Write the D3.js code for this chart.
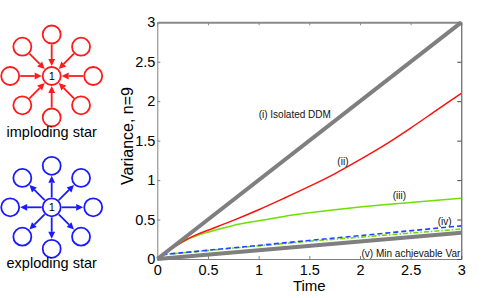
<!DOCTYPE html>
<html lang="en">
<head>
  <meta charset="UTF-8">
  <title>Variance, n=9</title>
  <script src="https://d3js.org/d3.v7.min.js"></script>
  <style>
    body {
      margin: 0;
      background: #fff;
      font-family: 'Liberation Sans', Arial, sans-serif;
    }
    .tick text {
      font-size: 14.5px;
      fill: #000;
    }
    .note {
      font-size: 10px;
      fill: #111;
    }
    .star-label {
      font-size: 14.5px;
      fill: #000;
    }
  </style>
</head>
<body>
  <svg id="chart" width="499" height="298"></svg>

  <script>
    // values
    const ticks = [0, 0.5, 1, 1.5, 2, 2.5, 3];

    const isolatedT = [0, 3];
    const isolatedV = [0, 3];

    const redT = [0, 0.1, 0.2, 0.3, 0.4, 0.5, 0.75, 1, 1.25, 1.5, 1.75, 2, 2.25, 2.5, 2.75, 3];
    const redV = [0, 0.095, 0.18, 0.255, 0.315, 0.365, 0.49, 0.625, 0.77, 0.92, 1.08, 1.26, 1.45, 1.66, 1.88, 2.1];

    const greenT = [0, 0.1, 0.2, 0.3, 0.4, 0.5, 0.75, 1, 1.25, 1.5, 1.75, 2, 2.5, 3];
    const greenV = [0, 0.095, 0.18, 0.25, 0.3, 0.34, 0.425, 0.485, 0.54, 0.585, 0.625, 0.66, 0.717, 0.77];

    const blueT = [0.05, 1.5, 3];
    const blueV = [0.055, 0.235, 0.42];

    const dashDotT = [0.05, 1.5, 3];
    const dashDotV = [0.055, 0.225, 0.38];

    const minT = [0, 3];
    const minV = [0, 0.333];

    const notes = [
      { text: "(i) Isolated DDM", t: 1.0, v: 1.785, anchor: "start" },
      { text: "(ii)", t: 1.777, v: 1.19, anchor: "start" },
      { text: "(iii)", t: 2.323, v: 0.756, anchor: "start" },
      { text: "(iv)", t: 2.767, v: 0.43, anchor: "start" },
      { text: "(v) Min achievable Var", t: 2.99, v: 0.025, anchor: "end" }
    ];

    const starAngles = [0, 45, 90, 135, 180, 225, 270, 315];

    const svg = d3.select("#chart");

    const x = d3.scaleLinear().domain([0, 3]).range([157.3, 461.3]);
    const y = d3.scaleLinear().domain([0, 3]).range([259, 22.3]);

    const zip = (ts, vs) => ts.map((t, i) => [t, vs[i]]);
    const line = d3.line().x(d => x(d[0])).y(d => y(d[1]));
    const smooth = d3.line().x(d => x(d[0])).y(d => y(d[1])).curve(d3.curveMonotoneX);

    const fmt = d => String(d);

    // axes, ticks inside like matlab
    const gx = svg.append("g")
      .attr("transform", `translate(0,${y(0)})`)
      .call(d3.axisBottom(x).tickValues(ticks).tickFormat(fmt).tickSizeInner(-3).tickSizeOuter(0).tickPadding(6));
    const gy = svg.append("g")
      .attr("transform", `translate(${x(0)},0)`)
      .call(d3.axisLeft(y).tickValues(ticks).tickFormat(fmt).tickSizeInner(-3).tickSizeOuter(0).tickPadding(2));
    const gt = svg.append("g")
      .attr("transform", `translate(0,${y(3)})`)
      .call(d3.axisTop(x).tickValues(ticks).tickFormat("").tickSizeInner(-3).tickSizeOuter(0));
    const gr = svg.append("g")
      .attr("transform", `translate(${x(3)},0)`)
      .call(d3.axisRight(y).tickValues(ticks).tickFormat("").tickSizeInner(-4).tickSizeOuter(0));

    [gx, gy].forEach(g => {
      g.select(".domain").attr("stroke", "#808080");
      g.selectAll(".tick line").attr("stroke", "#808080");
    });
    gt.select(".domain").attr("stroke", "#8a8a8a").attr("stroke-width", 2);
    gt.selectAll(".tick line").attr("stroke", "#8a8a8a");
    gr.select(".domain").attr("stroke", "#444");
    gr.selectAll(".tick line").attr("stroke", "#444");
    svg.selectAll(".tick text").attr("font-family", "'Liberation Sans', Arial, sans-serif");

    // series
    svg.append("path").datum(zip(greenT, greenV))
      .attr("d", smooth).attr("fill", "none")
      .attr("stroke", "#6ee000").attr("stroke-width", 1.5);

    svg.append("path").datum(zip(redT, redV))
      .attr("d", smooth).attr("fill", "none")
      .attr("stroke", "#ff1010").attr("stroke-width", 1.5);

    svg.append("path").datum(zip(dashDotT, dashDotV))
      .attr("d", line).attr("fill", "none")
      .attr("stroke", "#6ee000").attr("stroke-width", 1.6)
      .attr("stroke-dasharray", "5,2,1.5,2");

    svg.append("path").datum(zip(blueT, blueV))
      .attr("d", line).attr("fill", "none")
      .attr("stroke", "#2244ff").attr("stroke-width", 1.6)
      .attr("stroke-dasharray", "5,3");

    svg.append("path").datum(zip(minT, minV))
      .attr("d", line).attr("fill", "none")
      .attr("stroke", "#7f7f7f").attr("stroke-width", 4);

    svg.append("path").datum(zip(isolatedT, isolatedV))
      .attr("d", line).attr("fill", "none")
      .attr("stroke", "#7f7f7f").attr("stroke-width", 4);

    svg.selectAll(".note")
      .data(notes)
      .enter()
      .append("text")
      .attr("class", "note")
      .attr("x", d => x(d.t))
      .attr("y", d => y(d.v))
      .attr("text-anchor", d => d.anchor)
      .text(d => d.text);

    // axis titles
    svg.append("text")
      .attr("x", (x(0) + x(3)) / 2)
      .attr("y", 291)
      .attr("text-anchor", "middle")
      .style("font-size", "15px")
      .text("Time");

    svg.append("text")
      .attr("transform", "translate(133,136) rotate(-90)")
      .attr("text-anchor", "middle")
      .style("font-size", "16px")
      .text("Variance, n=9");

    // star diagrams
    function drawStar(cx, cy, color, inward, label) {
      const g = svg.append("g").attr("transform", `translate(${cx},${cy})`);
      const ring = 41.5, r = 9, head = 7, halfW = 3.4;
      starAngles.forEach(a => {
        const rad = a * Math.PI / 180;
        const ux = Math.cos(rad), uy = Math.sin(rad);
        const inner = r + 1, outer = ring - r - 1;
        const tip = inward ? inner : outer;
        const tail = inward ? outer : inner;
        const dir = inward ? 1 : -1;
        const baseD = tip + dir * head;
        g.append("line")
          .attr("x1", ux * tail).attr("y1", uy * tail)
          .attr("x2", ux * baseD).attr("y2", uy * baseD)
          .attr("stroke", color).attr("stroke-width", 1.8);
        const bx = ux * baseD, by = uy * baseD;
        g.append("path")
          .attr("d", `M${ux * tip},${uy * tip}L${bx - uy * halfW},${by + ux * halfW}L${bx + uy * halfW},${by - ux * halfW}Z`)
          .attr("fill", color);
        g.append("circle")
          .attr("cx", ux * ring).attr("cy", uy * ring).attr("r", r)
          .attr("fill", "#fff").attr("stroke", color).attr("stroke-width", 1.8);
      });
      g.append("circle").attr("r", r)
        .attr("fill", "#fff").attr("stroke", color).attr("stroke-width", 1.8);
      g.append("text").attr("y", 4).attr("text-anchor", "middle")
        .style("font-size", "11px").text("1");
      svg.append("text").attr("class", "star-label")
        .attr("x", cx).attr("y", cy + 60.5)
        .attr("text-anchor", "middle").text(label);
    }

    drawStar(51.7, 76, "#ff1a1a", true, "imploding star");
    drawStar(51.7, 207.3, "#1a1aff", false, "exploding star");
  </script>
</body>
</html>
